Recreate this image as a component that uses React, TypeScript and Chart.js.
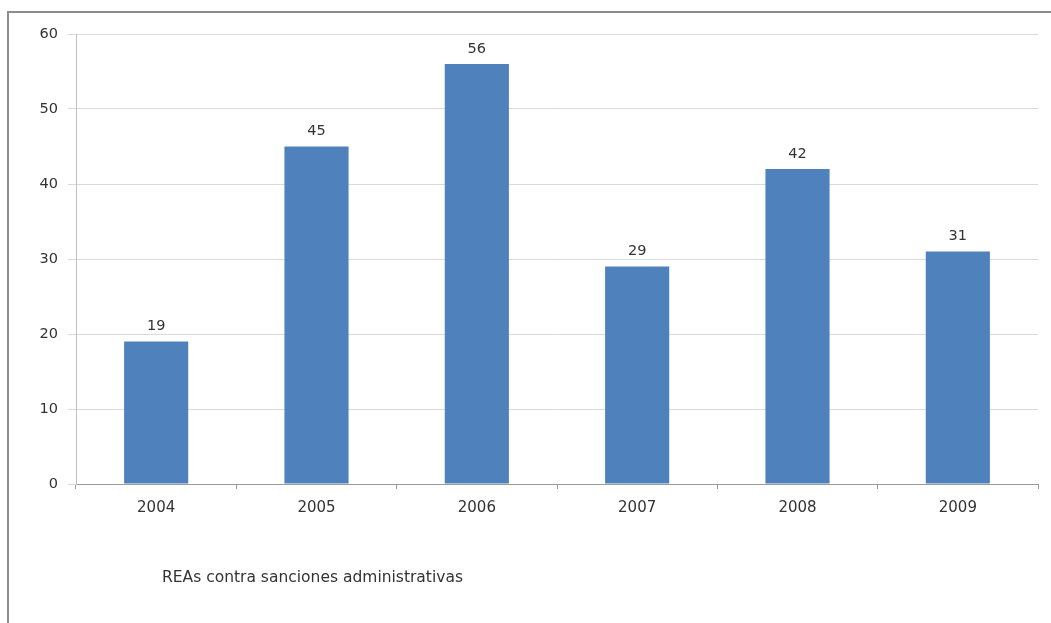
import React, { useEffect, useRef } from "react";
import { Chart, registerables } from "chart.js";

Chart.register(...registerables);

const categories = ["2004", "2005", "2006", "2007", "2008", "2009"];
const values = [19, 45, 56, 29, 42, 31];
const seriesName = "REAs contra sanciones administrativas";
const yTicks = [0, 10, 20, 30, 40, 50, 60];

const FONT = "'DejaVu Sans', 'Open Sans', sans-serif";

const valueLabels = {
  id: "valueLabels",
  afterDatasetsDraw(chart: any) {
    const ctx = chart.ctx;
    const meta = chart.getDatasetMeta(0);
    ctx.save();
    ctx.fillStyle = "#333333";
    ctx.font = `14.5px ${FONT}`;
    ctx.textAlign = "center";
    ctx.textBaseline = "bottom";
    meta.data.forEach((bar: any, i: number) => {
      ctx.fillText(String(values[i]), bar.x, bar.y - 8);
    });
    ctx.restore();
  },
};

const seriesText = {
  id: "seriesText",
  afterDraw(chart: any) {
    const ctx = chart.ctx;
    ctx.save();
    ctx.fillStyle = "#333333";
    ctx.font = `15.5px ${FONT}`;
    ctx.textAlign = "left";
    ctx.textBaseline = "middle";
    ctx.fillText(seriesName, 162, 578);
    ctx.restore();
  },
};

export default function App() {
  const ref = useRef<HTMLCanvasElement | null>(null);
  useEffect(() => {
    if (!ref.current) return;
    const chart = new Chart(ref.current, {
      type: "bar",
      data: {
        labels: categories,
        datasets: [
          {
            label: seriesName,
            data: values,
            backgroundColor: "#4F81BD",
            barPercentage: 0.4,
            categoryPercentage: 1,
          },
        ],
      },
      options: {
        animation: false,
        responsive: false,
        layout: { padding: { left: 0, top: 34, right: 13, bottom: 0 } },
        plugins: {
          legend: { display: false },
          tooltip: { enabled: false },
        },
        scales: {
          x: {
            grid: {
              offset: true,
              drawOnChartArea: false,
              drawTicks: true,
              tickLength: 5,
              color: "#9a9a9a",
            },
            border: { color: "#9a9a9a" },
            ticks: {
              color: "#333333",
              font: { family: FONT, size: 15 },
              padding: 10,
            },
            afterFit(scale: any) {
              scale.height = 139;
            },
          },
          y: {
            min: 0,
            max: 60,
            afterBuildTicks(scale: any) {
              scale.ticks = yTicks.map((v) => ({ value: v }));
            },
            grid: {
              color: "#d9d9d9",
              tickLength: 8,
            },
            border: { color: "#bfbfbf" },
            ticks: {
              color: "#333333",
              font: { family: FONT, size: 14.5 },
              padding: 10,
            },
            afterFit(scale: any) {
              scale.width = 76;
            },
          },
        },
      },
      plugins: [valueLabels, seriesText],
    });
    return () => chart.destroy();
  }, []);

  return (
    <div style={{ position: "absolute", left: 0, top: 0, width: 1051, height: 623, background: "#ffffff", overflow: "hidden" }}>
      <canvas ref={ref} width={1051} height={623} style={{ position: "absolute", left: 0, top: 0 }} />
      <div
        style={{
          position: "absolute",
          left: 7,
          top: 11,
          width: 1100,
          height: 700,
          borderLeft: "2px solid #8c8c8c",
          borderTop: "2px solid #8c8c8c",
          pointerEvents: "none",
        }}
      />
    </div>
  );
}
